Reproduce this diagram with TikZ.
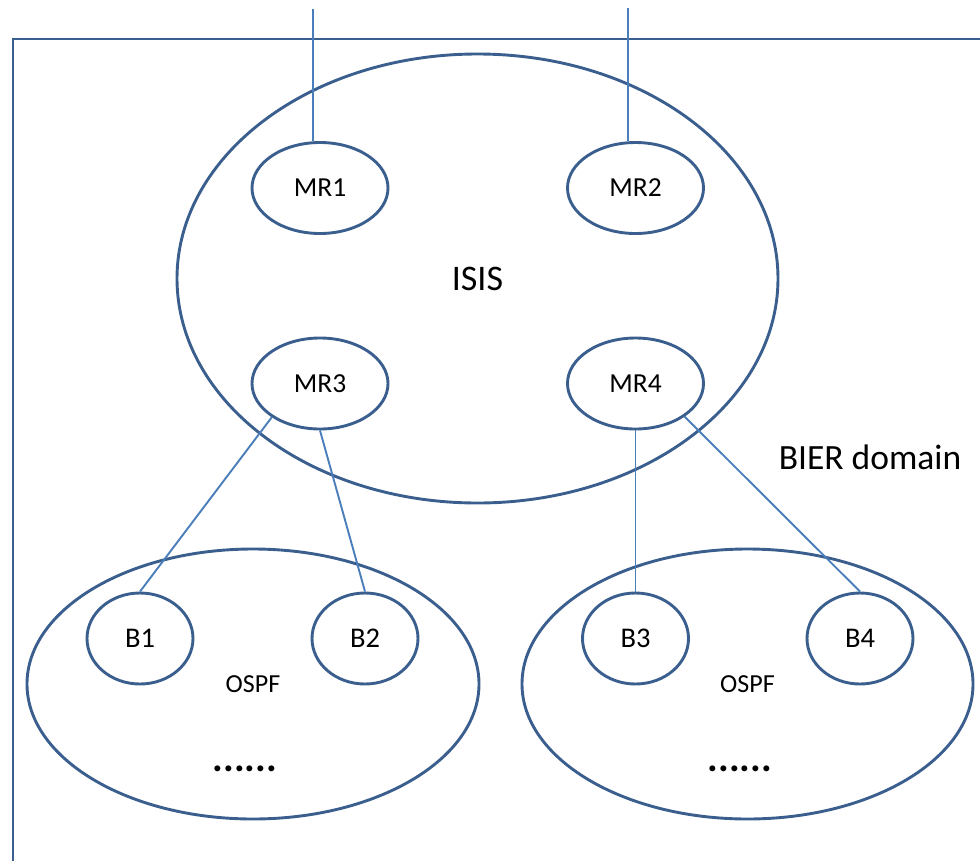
\documentclass[tikz,border=0pt]{standalone}
\usepackage{fontspec}
\setmainfont{Carlito}
\usetikzlibrary{shapes.geometric}
\definecolor{edgeblue}{HTML}{3A5F8E}
\definecolor{linkblue}{HTML}{4A7EBB}
\tikzset{
  ring/.style={ellipse, draw=edgeblue, line width=2.9pt, inner sep=0pt},
  router/.style={ring, minimum width=136pt, minimum height=91pt, font=\fontsize{27.5}{32}\selectfont},
  edgerouter/.style={ring, minimum width=106pt, minimum height=91pt, font=\fontsize{28.5}{33}\selectfont},
  area/.style={ring},
  link/.style={draw=linkblue, line width=1.9pt},
}
\begin{document}
\begin{tikzpicture}[x=1pt,y=-1pt]
\useasboundingbox (0,0) rectangle (980,860);
\clip (0,0) rectangle (980,860);
% BIER domain frame
\draw[edgeblue, line width=2.9pt] (13,1000) -- (13,39) -- (1100,39);
\node[font=\fontsize{35.5}{42}\selectfont] (bier) at (870,457) {BIER domain};
% areas
\node[area, minimum width=601pt, minimum height=449pt, font=\fontsize{36}{42}\selectfont] (isis) at (477.5,278.5) {ISIS};
\node[area, minimum width=452pt, minimum height=270pt, font=\fontsize{26}{31}\selectfont] (ospfL) at (253,684) {OSPF};
\node[area, minimum width=451pt, minimum height=270pt, font=\fontsize{26}{31}\selectfont] (ospfR) at (747.5,684) {OSPF};
\node[font=\fontsize{40}{46}\bfseries\selectfont] (dotsL) at (245,769) {......};
\node[font=\fontsize{40}{46}\bfseries\selectfont] (dotsR) at (740,769) {......};
% routers
\node[router] (MR1) at (320,188) {MR1};
\node[router] (MR2) at (635.5,188) {MR2};
\node[router] (MR3) at (320,383.5) {MR3};
\node[router] (MR4) at (635.5,383.5) {MR4};
\node[edgerouter] (B1) at (140,638.5) {B1};
\node[edgerouter] (B2) at (365,638.5) {B2};
\node[edgerouter] (B3) at (635.5,638.5) {B3};
\node[edgerouter] (B4) at (860,638.5) {B4};
% upstream links
\coordinate (up1) at (313,9);
\coordinate (up2) at (628,8);
\draw[link] (up1) -- (up1 |- MR1.north);
\draw[link] (up2) -- (up2 |- MR2.north);
% links
\draw[link] (MR3.215) -- (B1.north);
\draw[link] (MR3.south) -- (B2.north);
\draw[link] (MR4.south) -- (B3.north);
\draw[link] (MR4.326) -- (B4.north);
\end{tikzpicture}
\end{document}
